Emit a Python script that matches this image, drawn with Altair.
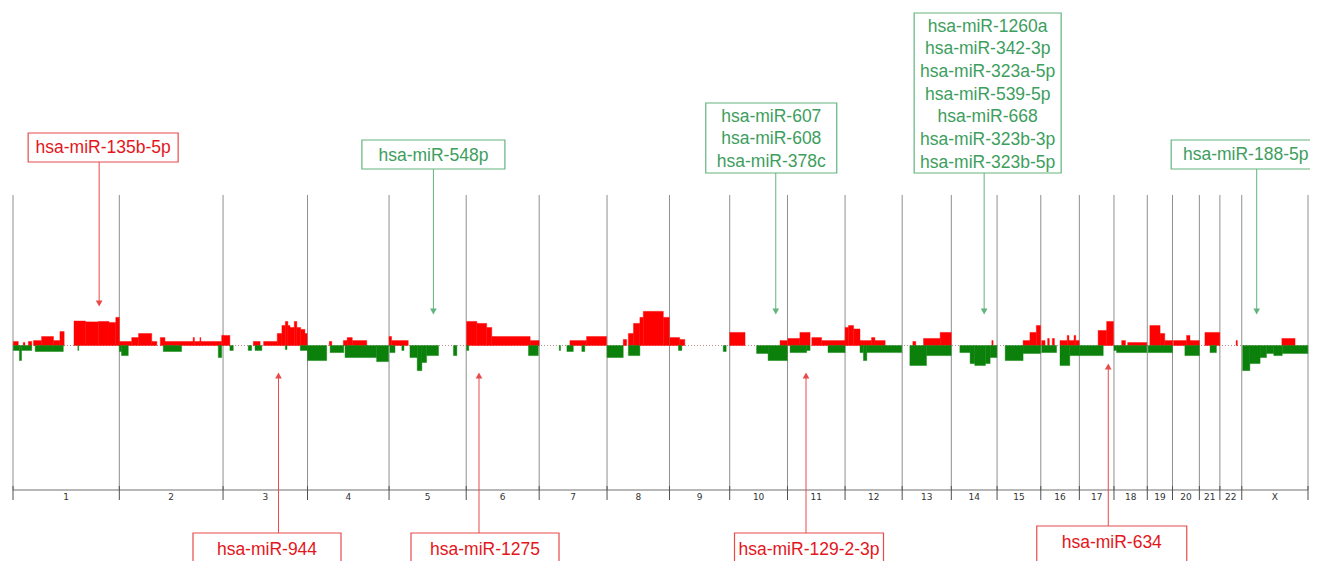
import altair as alt
import pandas as pd

# ---------------- data ----------------
CHROMS = ["1", "2", "3", "4", "5", "6", "7", "8", "9", "10", "11", "12",
          "13", "14", "15", "16", "17", "18", "19", "20", "21", "22", "X"]
CHROM_LEN_MB = [249.3, 243.2, 198.0, 191.2, 180.9, 171.1, 159.1, 146.4, 141.2,
                135.5, 135.0, 133.9, 115.2, 107.3, 102.5, 90.4, 81.2, 78.1,
                59.1, 63.0, 48.1, 51.3, 155.3]

# (chromosome, start Mb, end Mb, frequency %)
GAINS = [
    ("1", 0.7, 12.4, 2.7), ("1", 24, 28, 2.0), ("1", 36, 44, 2.7), ("1", 48, 67, 3.3),
    ("1", 67, 95, 6.0), ("1", 95, 110, 3.3), ("1", 110, 120, 9.3), ("1", 143, 170, 16.3),
    ("1", 170, 200, 15.7), ("1", 200, 225, 16.0), ("1", 225, 241, 15.3), ("1", 241, 249.3, 18.7),
    ("2", 0, 29, 2.7), ("2", 29, 45, 5.3), ("2", 45, 76, 8.0), ("2", 76, 88, 2.7),
    ("2", 96, 107, 5.3), ("2", 107, 173, 2.7), ("2", 173, 176, 5.3), ("2", 176, 189, 2.7),
    ("2", 189, 191, 5.3), ("2", 191, 240, 2.7), ("2", 240, 243.2, 6.7),
    ("3", 0, 16, 6.7), ("3", 71, 87, 2.7), ("3", 95, 127, 2.7), ("3", 127, 138, 8.0),
    ("3", 138, 146, 13.3), ("3", 146, 152, 16.0), ("3", 152, 157, 13.3), ("3", 157, 167, 12.0),
    ("3", 167, 173, 16.0), ("3", 173, 182, 12.0), ("3", 182, 192, 10.7), ("3", 192, 197, 8.0),
    ("4", 51, 57, 2.7), ("4", 84, 93, 3.3), ("4", 93, 105, 5.3), ("4", 105, 139, 3.3),
    ("5", 0, 6, 6.0), ("5", 6, 45, 3.3),
    ("6", 1, 25, 16.0), ("6", 25, 48, 14.7), ("6", 48, 60, 12.0), ("6", 60, 150, 6.0),
    ("6", 150, 171, 3.3),
    ("7", 72, 111, 3.3), ("7", 111, 158, 6.0),
    ("8", 38, 46, 4.0), ("8", 50, 62, 8.0), ("8", 62, 77, 14.7), ("8", 77, 85, 18.7),
    ("8", 85, 132, 22.7), ("8", 132, 146, 18.7),
    ("9", 1, 24, 5.3), ("9", 24, 36, 4.0),
    ("10", 0, 36, 8.7), ("10", 118, 135, 3.3),
    ("11", 1, 29, 4.7), ("11", 29, 53, 8.7), ("11", 57, 80, 5.3), ("11", 80, 135, 3.3),
    ("12", 0, 8, 12.0), ("12", 8, 20, 13.3), ("12", 20, 35, 11.0), ("12", 35, 62, 3.3),
    ("12", 62, 70, 5.3), ("12", 70, 94, 3.3),
    ("13", 25, 32, 2.7), ("13", 50, 89, 4.7), ("13", 89, 115, 8.7),
    ("14", 95, 98, 3.3),
    ("15", 61, 77, 3.3), ("15", 77, 92, 8.7), ("15", 92, 102, 13.3),
    ("16", 2, 10, 3.3), ("16", 16, 20, 4.7), ("16", 27, 32, 4.7), ("16", 45, 62, 3.3),
    ("16", 62, 66, 6.7), ("16", 66, 78, 3.3), ("16", 78, 82, 6.7), ("16", 82, 90, 3.3),
    ("17", 44, 64, 10.0), ("17", 64, 80, 16.0),
    ("18", 18, 27, 3.3), ("18", 32, 77, 2.0),
    ("19", 6, 30, 13.3), ("19", 30, 41, 8.0), ("19", 41, 59, 3.3),
    ("20", 2, 33, 3.3), ("20", 33, 41, 6.7), ("20", 41, 63, 3.3),
    ("21", 13, 48, 8.7),
    ("22", 38, 41, 3.3),
    ("X", 94, 125, 4.7),
]

LOSSES = [
    ("1", 0.7, 15, 3.3), ("1", 15, 20, 10.0), ("1", 20, 44, 3.3), ("1", 52, 118, 4.0),
    ("1", 152, 154, 3.3),
    ("2", 0, 5, 4.0), ("2", 5, 21, 6.7), ("2", 103, 146, 4.0), ("2", 232, 240, 8.0),
    ("3", 16, 24, 3.3), ("3", 59, 67, 3.3), ("3", 75, 91, 3.3), ("3", 146, 150, 2.7),
    ("3", 181, 198, 3.3),
    ("4", 0, 45, 10.0), ("4", 53, 85, 4.7), ("4", 88, 162, 8.0), ("4", 162, 190, 10.7),
    ("5", 2, 14, 4.7), ("5", 30, 35, 3.3), ("5", 49, 66, 8.0), ("5", 66, 77, 16.7),
    ("5", 77, 88, 11.3), ("5", 88, 116, 6.7), ("5", 151, 159, 6.7),
    ("6", 1, 6, 3.3), ("6", 146, 169, 6.7),
    ("7", 47, 50, 3.3), ("7", 65, 80, 4.0), ("7", 100, 107, 4.0),
    ("8", 0, 38, 8.0), ("8", 50, 77, 6.7),
    ("9", 21, 29, 3.3), ("9", 126, 133, 4.0),
    ("10", 63, 90, 5.3), ("10", 90, 135, 10.0),
    ("11", 6, 45, 4.7), ("11", 45, 53, 3.3), ("11", 95, 135, 4.7),
    ("12", 35, 43, 4.7), ("12", 43, 51, 10.0), ("12", 51, 133, 4.7),
    ("13", 18, 57, 13.3), ("13", 57, 115, 6.7),
    ("14", 20, 44, 4.7), ("14", 44, 55, 12.0), ("14", 55, 80, 13.3), ("14", 80, 91, 12.0),
    ("14", 91, 107, 8.0),
    ("15", 19, 61, 10.0), ("15", 61, 102, 5.3),
    ("16", 2, 37, 4.7), ("16", 45, 68, 13.3), ("16", 68, 90, 6.7),
    ("17", 0, 56, 6.7),
    ("18", 0, 6, 3.3), ("18", 6, 77, 4.7),
    ("19", 2, 59, 4.7),
    ("20", 29, 63, 6.7),
    ("21", 25, 40, 4.7),
    ("X", 2, 19, 16.7), ("X", 19, 43, 12.0), ("X", 43, 58, 8.0), ("X", 58, 75, 5.3),
    ("X", 75, 95, 6.7), ("X", 95, 155, 5.3),
]

ANNOT_LABELS = [
    ["hsa-miR-135b-5p"],
    ["hsa-miR-548p"],
    ["hsa-miR-607", "hsa-miR-608", "hsa-miR-378c"],
    ["hsa-miR-1260a", "hsa-miR-342-3p", "hsa-miR-323a-5p", "hsa-miR-539-5p",
     "hsa-miR-668", "hsa-miR-323b-3p", "hsa-miR-323b-5p"],
    ["hsa-miR-188-5p"],
    ["hsa-miR-944"],
    ["hsa-miR-1275"],
    ["hsa-miR-129-2-3p"],
    ["hsa-miR-634"],
]
ANNOT_CHROM = ["1", "5", "10", "14", "X", "3", "6", "11", "17"]
ANNOT_POS_MB = [202, 104, 108, 77, 35, 130, 30, 43.4, 67.8]
ANNOT_CLASS = ["up", "down", "down", "down", "down", "up", "up", "up", "up"]

# ---------------- layout ----------------
W, H = 1295, 295
Y_MIN, Y_MAX = -96, 100
PAD_LEFT, PAD_TOP = 5, 187
PLOT_TOP_PAGE = 8 + PAD_TOP

RED, GREEN = "#ff0000", "#0b800b"
ANN_TEXT = {"up": "#e3161c", "down": "#3d9e5e"}
ANN_LINE = {"up": "#e84a4a", "down": "#62b47f"}

offsets, acc = {}, 0.0
for c, L in zip(CHROMS, CHROM_LEN_MB):
    offsets[c] = acc
    acc += L
TOTAL = acc
PX_PER_MB = W / TOTAL
PX_PER_UNIT = H / (Y_MAX - Y_MIN)


def yv(page_y):
    return Y_MAX - (page_y - PLOT_TOP_PAGE) / PX_PER_UNIT


def dx(px):
    return px / PX_PER_MB


x_scale = alt.Scale(domain=[0, TOTAL], nice=False, zero=False)
y_scale = alt.Scale(domain=[Y_MIN, Y_MAX], nice=False, zero=False)

chrom_df = pd.DataFrame({
    "chrom": CHROMS,
    "start": [offsets[c] for c in CHROMS],
    "end": [offsets[c] + L for c, L in zip(CHROMS, CHROM_LEN_MB)],
})
chrom_df["mid"] = (chrom_df["start"] + chrom_df["end"]) / 2
bound_df = pd.DataFrame({"pos": list(chrom_df["start"]) + [TOTAL]})

seg_rows = []
for c, s, e, v in GAINS:
    seg_rows.append({"s": offsets[c] + s, "e": offsets[c] + e, "v": v, "kind": "gain"})
for c, s, e, v in LOSSES:
    seg_rows.append({"s": offsets[c] + s, "e": offsets[c] + e, "v": -v, "kind": "loss"})
seg_df = pd.DataFrame(seg_rows)

# annotation geometry (pixel layout converted through the scales' units)
# (tip_y, box_top, box_bottom, first_text_y, box_dx, box_w)
GEOM = [
    (307, 133, 162, 148, 4, 150),
    (315, 140, 169, 155.5, 0, 143),
    (315, 103, 173, 116.7, -4.5, 131),
    (315, 13, 173, 26.7, 3.5, 147),
    (315, 140, 169, 155, -11, 149),
    (372, 533, 575, 550, -11.5, 148),
    (372, 533, 575, 550, 6, 148),
    (372, 533, 575, 550, 3, 149),
    (363, 526, 575, 542.7, 3.5, 150),
]
LINE_STEP = 22.67

box_rows, line_rows, head_rows, text_rows = [], [], [], []
for labels, c, pos, cls, g in zip(ANNOT_LABELS, ANNOT_CHROM, ANNOT_POS_MB, ANNOT_CLASS, GEOM):
    tip, btop, bbot, ty, bdx, bw = g
    xa = offsets[c] + pos
    xc = xa + dx(bdx)
    top_side = btop < tip
    box_rows.append({"x1": xc - dx(bw / 2), "x2": xc + dx(bw / 2),
                     "y1": yv(btop), "y2": yv(bbot), "cls": cls})
    if top_side:
        line_rows.append({"x": xa, "y1": yv(bbot), "y2": yv(tip - 3), "cls": cls})
        head_rows.append({"x": xa, "y": yv(tip - 3.5), "cls": cls, "shape": "triangle-down"})
    else:
        line_rows.append({"x": xa, "y1": yv(tip + 3), "y2": yv(btop), "cls": cls})
        head_rows.append({"x": xa, "y": yv(tip + 3.5), "cls": cls, "shape": "triangle-up"})
    for i, t in enumerate(labels):
        text_rows.append({"x": xc, "y": yv(ty + i * LINE_STEP), "t": t, "cls": cls})

box_df = pd.DataFrame(box_rows)
line_df = pd.DataFrame(line_rows)
head_df = pd.DataFrame(head_rows)
text_df = pd.DataFrame(text_rows)

cls_dom = ["up", "down"]
line_color = alt.Color("cls:N", scale=alt.Scale(domain=cls_dom, range=[ANN_LINE[k] for k in cls_dom]), legend=None)
text_color = alt.Color("cls:N", scale=alt.Scale(domain=cls_dom, range=[ANN_TEXT[k] for k in cls_dom]), legend=None)

X = lambda f: alt.X(f, scale=x_scale, axis=None)
Y = lambda f: alt.Y(f, scale=y_scale, axis=None)

grid = alt.Chart(bound_df).mark_rule(color="#8f8f8f", strokeWidth=1).encode(
    x=X("pos:Q"), y=alt.YDatum(Y_MAX, scale=y_scale, axis=None), y2=alt.Y2Datum(Y_MIN))

baseline = alt.Chart(chrom_df.head(1)).mark_rule(color="#b07070", strokeWidth=0.8, strokeDash=[1, 2]).encode(
    x=alt.XDatum(0, scale=x_scale, axis=None), x2=alt.X2Datum(TOTAL),
    y=alt.YDatum(0, scale=y_scale, axis=None))

gains = alt.Chart(seg_df[seg_df.kind == "gain"]).mark_rect(color=RED, stroke=RED, strokeWidth=0.4).encode(
    x=X("s:Q"), x2="e:Q", y=Y("v:Q"), y2=alt.Y2Datum(0))
losses = alt.Chart(seg_df[seg_df.kind == "loss"]).mark_rect(color=GREEN, stroke=GREEN, strokeWidth=0.4).encode(
    x=X("s:Q"), x2="e:Q", y=Y("v:Q"), y2=alt.Y2Datum(0))

axis_line = alt.Chart(chrom_df.head(1)).mark_rule(color="#707070", strokeWidth=1).encode(
    x=alt.XDatum(0, scale=x_scale, axis=None), x2=alt.X2Datum(TOTAL),
    y=alt.YDatum(Y_MIN, scale=y_scale, axis=None))
ticks = alt.Chart(bound_df).mark_rule(color="#505050", strokeWidth=1).encode(
    x=X("pos:Q"), y=alt.YDatum(yv(486), scale=y_scale, axis=None), y2=alt.Y2Datum(yv(500)))
labels = alt.Chart(chrom_df).mark_text(font="DejaVu Sans", fontSize=9, color="#333333",
                                       baseline="middle", align="center").encode(
    x=X("mid:Q"), y=alt.YDatum(yv(497), scale=y_scale, axis=None), text="chrom:N")

ann_lines = alt.Chart(line_df).mark_rule(strokeWidth=1).encode(
    x=X("x:Q"), y=Y("y1:Q"), y2="y2:Q", color=line_color)
ann_heads = alt.Chart(head_df).mark_point(filled=True, size=45, opacity=1).encode(
    x=X("x:Q"), y=Y("y:Q"), color=line_color,
    shape=alt.Shape("shape:N", scale=alt.Scale(domain=["triangle-down", "triangle-up"],
                                               range=["triangle-down", "triangle-up"]), legend=None))
ann_boxes = alt.Chart(box_df).mark_rect(fill="white", strokeWidth=1.2).encode(
    x=X("x1:Q"), x2="x2:Q", y=Y("y1:Q"), y2="y2:Q",
    stroke=alt.Stroke("cls:N", scale=alt.Scale(domain=cls_dom, range=[ANN_LINE[k] for k in cls_dom]), legend=None))
ann_text = alt.Chart(text_df).mark_text(font="Liberation Sans", fontSize=17.5, baseline="middle",
                                        align="center").encode(
    x=X("x:Q"), y=Y("y:Q"), text="t:N", color=text_color)

chart = alt.layer(grid, baseline, gains, losses, axis_line, ticks, labels,
                  ann_lines, ann_heads, ann_boxes, ann_text).resolve_scale(
    color="independent", stroke="independent").properties(
    width=W, height=H,
    autosize=alt.AutoSizeParams(type="none"),
    padding={"left": PAD_LEFT, "top": PAD_TOP, "right": 2, "bottom": 80},
).configure_view(stroke=None)

chart.save("out.html", embed_options={"renderer": "svg", "actions": False})
